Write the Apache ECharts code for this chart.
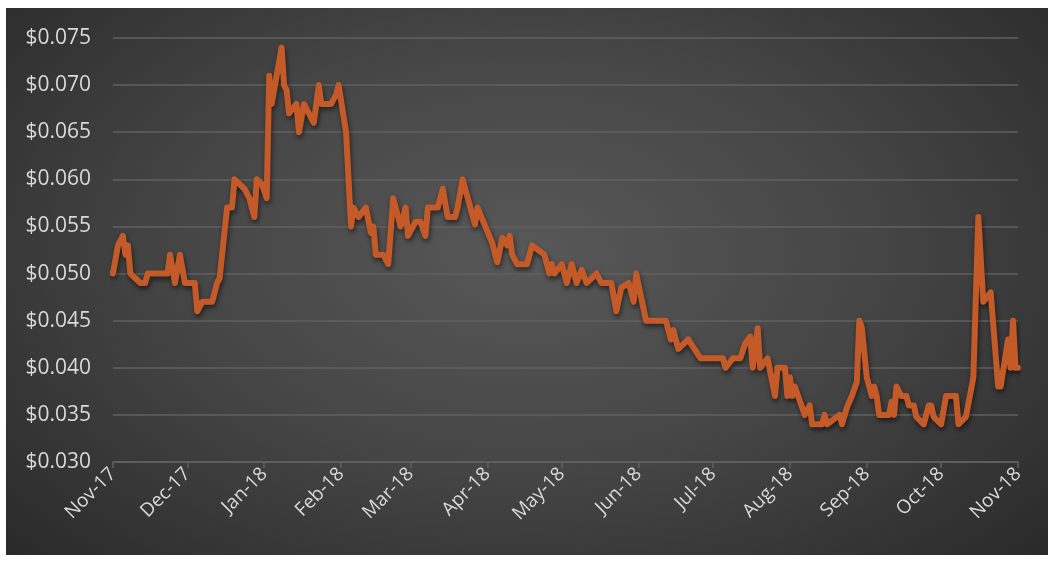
<!DOCTYPE html>
<html>
<head>
<meta charset="utf-8">
<script src="https://cdn.jsdelivr.net/npm/echarts@6/dist/echarts.min.js"></script>
<style>
  html, body { margin: 0; padding: 0; background: #ffffff; }
  #panel {
    position: absolute; left: 6px; top: 8px; width: 1042px; height: 547px;
    background: radial-gradient(ellipse 72% 85% at 50% 45%, #585858 0%, #464646 45%, #272727 100%);
  }
  #main { position: absolute; left: 0; top: 0; width: 1056px; height: 562px; }
</style>
</head>
<body>
<div id="panel"></div>
<div id="main"></div>
<script>
// price per day
var dates = [
  '2017-11-01','2017-11-03','2017-11-05','2017-11-06','2017-11-07','2017-11-08','2017-11-10','2017-11-12',
  '2017-11-14','2017-11-15','2017-11-23','2017-11-24','2017-11-26','2017-11-28','2017-11-30','2017-12-04',
  '2017-12-05','2017-12-07','2017-12-11','2017-12-13','2017-12-14','2017-12-17','2017-12-19','2017-12-20',
  '2017-12-24','2017-12-26','2017-12-28','2017-12-29','2017-12-31','2018-01-02','2018-01-03','2018-01-04',
  '2018-01-06','2018-01-08','2018-01-09','2018-01-10','2018-01-11','2018-01-14','2018-01-15','2018-01-17',
  '2018-01-19','2018-01-21','2018-01-23','2018-01-24','2018-01-28','2018-01-30','2018-01-31','2018-02-03',
  '2018-02-05','2018-02-06','2018-02-08','2018-02-11','2018-02-13','2018-02-14','2018-02-15','2018-02-18',
  '2018-02-20','2018-02-22','2018-02-25','2018-02-27','2018-02-28','2018-03-03','2018-03-05','2018-03-07',
  '2018-03-08','2018-03-12','2018-03-14','2018-03-16','2018-03-19','2018-03-20','2018-03-22','2018-03-27',
  '2018-03-28','2018-04-03','2018-04-05','2018-04-07','2018-04-09','2018-04-10','2018-04-11','2018-04-13',
  '2018-04-17','2018-04-19','2018-04-24','2018-04-26','2018-04-27','2018-04-28','2018-05-01','2018-05-03',
  '2018-05-05','2018-05-07','2018-05-09','2018-05-11','2018-05-15','2018-05-17','2018-05-21','2018-05-23',
  '2018-05-25','2018-05-28','2018-05-30','2018-05-31','2018-06-04','2018-06-12','2018-06-14','2018-06-15',
  '2018-06-17','2018-06-21','2018-06-26','2018-07-05','2018-07-06','2018-07-09','2018-07-12','2018-07-14',
  '2018-07-16','2018-07-17','2018-07-19','2018-07-20','2018-07-23','2018-07-26','2018-07-27','2018-07-30',
  '2018-07-31','2018-08-01','2018-08-02','2018-08-03','2018-08-07','2018-08-09','2018-08-10','2018-08-14',
  '2018-08-15','2018-08-16','2018-08-21','2018-08-22','2018-08-24','2018-08-26','2018-08-28','2018-08-29',
  '2018-08-30','2018-09-01','2018-09-03','2018-09-04','2018-09-05','2018-09-06','2018-09-10','2018-09-11',
  '2018-09-12','2018-09-13','2018-09-15','2018-09-17','2018-09-18','2018-09-20','2018-09-21','2018-09-24',
  '2018-09-26','2018-09-27','2018-09-28','2018-10-01','2018-10-03','2018-10-07','2018-10-08','2018-10-11',
  '2018-10-14','2018-10-16','2018-10-18','2018-10-21','2018-10-24','2018-10-25','2018-10-28','2018-10-29',
  '2018-10-30','2018-10-31','2018-11-01'
];
var prices = [
  0.0500,0.0530,0.0540,0.0520,0.0530,0.0500,0.0495,0.0490,
  0.0490,0.0500,0.0500,0.0520,0.0490,0.0520,0.0490,0.0490,
  0.0460,0.0470,0.0470,0.0490,0.0495,0.0570,0.0570,0.0600,
  0.0590,0.0580,0.0560,0.0600,0.0595,0.0580,0.0710,0.0680,
  0.0710,0.0740,0.0700,0.0695,0.0670,0.0680,0.0650,0.0680,
  0.0670,0.0660,0.0700,0.0680,0.0680,0.0690,0.0700,0.0650,
  0.0550,0.0570,0.0560,0.0570,0.0543,0.0550,0.0520,0.0520,
  0.0510,0.0580,0.0550,0.0570,0.0540,0.0555,0.0555,0.0540,
  0.0570,0.0570,0.0590,0.0560,0.0560,0.0570,0.0600,0.0552,
  0.0570,0.0532,0.0512,0.0538,0.0530,0.0540,0.0520,0.0510,
  0.0510,0.0530,0.0520,0.0500,0.0510,0.0500,0.0510,0.0490,
  0.0510,0.0490,0.0504,0.0490,0.0500,0.0490,0.0490,0.0460,
  0.0485,0.0490,0.0470,0.0500,0.0450,0.0450,0.0430,0.0440,
  0.0420,0.0430,0.0410,0.0410,0.0400,0.0410,0.0410,0.0426,
  0.0433,0.0400,0.0442,0.0400,0.0410,0.0370,0.0400,0.0400,
  0.0370,0.0390,0.0370,0.0380,0.0350,0.0360,0.0340,0.0340,
  0.0350,0.0340,0.0350,0.0340,0.0358,0.0370,0.0385,0.0450,
  0.0443,0.0390,0.0370,0.0380,0.0370,0.0350,0.0350,0.0364,
  0.0350,0.0380,0.0370,0.0370,0.0360,0.0360,0.0348,0.0340,
  0.0360,0.0360,0.0348,0.0340,0.0370,0.0370,0.0340,0.0348,
  0.0390,0.0560,0.0470,0.0480,0.0380,0.0380,0.0430,0.0400,
  0.0450,0.0400,0.0400
];
var tickDates = ['2017-11-01','2017-12-01','2018-01-01','2018-02-01','2018-03-01','2018-04-01','2018-05-01',
  '2018-06-01','2018-07-01','2018-08-01','2018-09-01','2018-10-01','2018-11-01'];
var tickLabels = ['Nov-17','Dec-17','Jan-18','Feb-18','Mar-18','Apr-18','May-18',
  'Jun-18','Jul-18','Aug-18','Sep-18','Oct-18','Nov-18'];

function toTime(d) { return +new Date(d + 'T00:00:00Z'); }
var tickTimes = tickDates.map(toTime);
var seriesData = [];
for (var i = 0; i < dates.length; i++) {
  seriesData.push([toTime(dates[i]), prices[i]]);
}

var myChart = echarts.init(document.getElementById('main'));
myChart.setOption({
  backgroundColor: 'transparent',
  animation: false,
  grid: { left: 113, right: 38, top: 38, bottom: 100 },
  xAxis: {
    // timestamps on a plain value axis, so month ticks can be placed exactly
    type: 'value',
    min: tickTimes[0],
    max: tickTimes[tickTimes.length - 1],
    axisLine: { show: true, lineStyle: { color: '#606060', width: 1.5 } },
    axisTick: { show: true, length: 6, lineStyle: { color: '#606060', width: 1.5 }, customValues: tickTimes },
    splitLine: { show: false },
    axisLabel: {
      customValues: tickTimes,
      rotate: 45,
      margin: 9,
      color: '#d9d9d9',
      fontSize: 19,
      fontFamily: 'Open Sans',
      formatter: function (value) {
        var k = tickTimes.indexOf(value);
        return k >= 0 ? tickLabels[k] : '';
      }
    }
  },
  yAxis: {
    type: 'value',
    min: 0.030,
    max: 0.075,
    interval: 0.005,
    axisLine: { show: false },
    axisTick: { show: false },
    splitLine: { lineStyle: { color: '#606060', width: 1.5 } },
    axisLabel: {
      margin: 22,
      color: '#d9d9d9',
      fontSize: 21,
      fontFamily: 'Open Sans',
      formatter: function (v) { return '$' + v.toFixed(3); }
    }
  },
  series: [
    {
      type: 'line',
      data: seriesData,
      showSymbol: false,
      symbol: 'none',
      lineStyle: {
        color: '#c55a29',
        width: 6,
        join: 'round',
        cap: 'round',
        shadowColor: 'rgba(0,0,0,0.55)',
        shadowBlur: 5,
        shadowOffsetX: 1,
        shadowOffsetY: 3
      }
    }
  ]
});
</script>
</body>
</html>
